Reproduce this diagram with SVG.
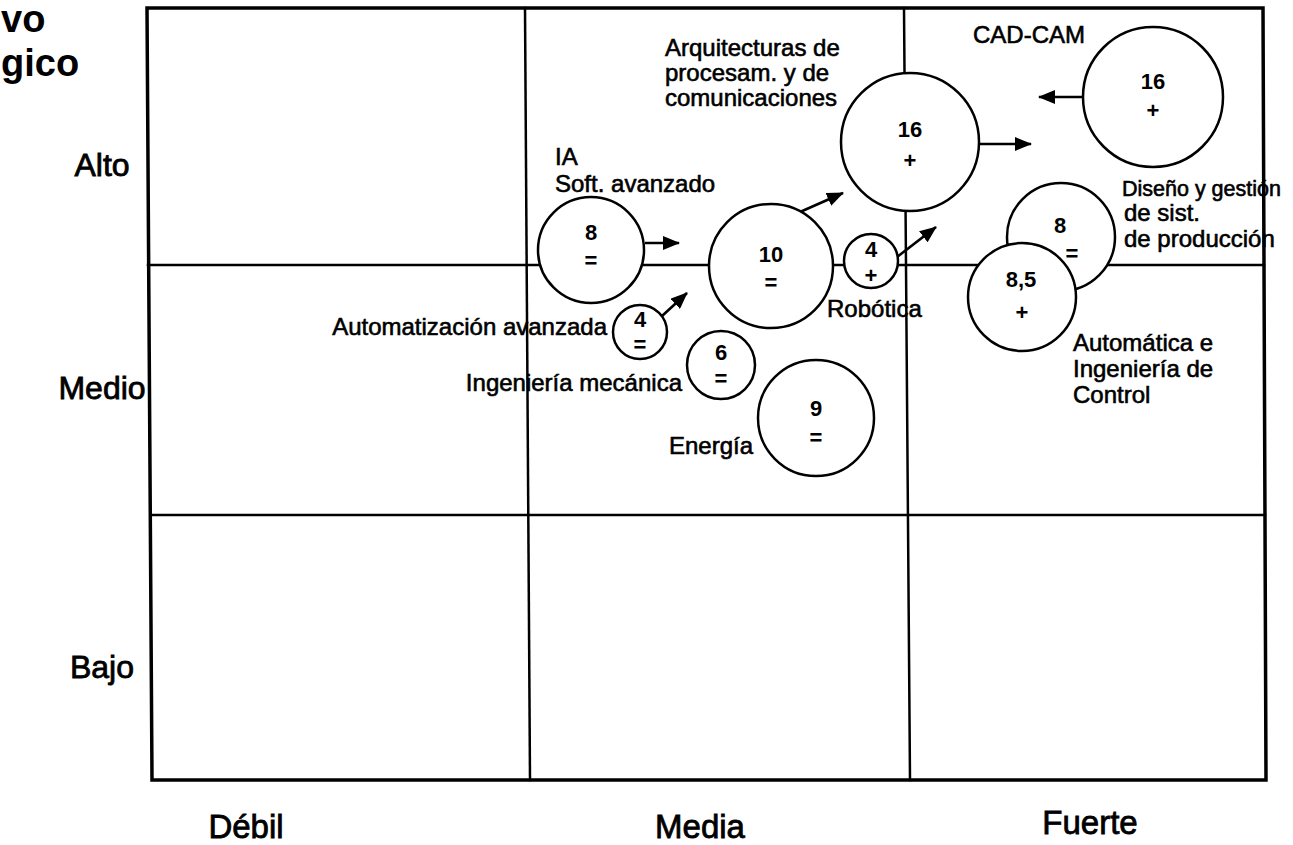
<svg xmlns="http://www.w3.org/2000/svg" width="1293" height="845" viewBox="0 0 1293 845">
  <defs>
    <style>
      .grid { fill: none; stroke: #000; stroke-width: 2.5; stroke-linecap: square; }
      .frame { fill: none; stroke: #000; stroke-width: 3.5; stroke-linejoin: miter; }
      .bubble { fill: #fff; stroke: #000; stroke-width: 2.5; }
      .lbl { font-family: "Liberation Sans", Arial, sans-serif; font-size: 24px; fill: #000; stroke: #000; stroke-width: 0.6; }
      .lbl-s { font-size: 21.5px; }
      .num { font-family: "Liberation Sans", Arial, sans-serif; font-size: 22px; font-weight: bold; fill: #000; text-anchor: middle; }
      .axis { font-family: "Liberation Sans", Arial, sans-serif; font-size: 32px; fill: #000; stroke: #000; stroke-width: 0.8; text-anchor: middle; }
      .axis-b { font-size: 33px; }
      .title { font-family: "Liberation Sans", Arial, sans-serif; font-size: 38px; font-weight: bold; fill: #000; }
      .arrow { fill: none; stroke: #000; stroke-width: 2.6; marker-end: url(#head); }
    </style>
    <marker id="head" markerUnits="userSpaceOnUse" markerWidth="18" markerHeight="14" refX="16" refY="7" orient="auto">
      <path d="M0,0 L17,7 L0,14 Z" fill="#000"/>
    </marker>
  </defs>

  <rect width="1293" height="845" fill="#fff"/>

  <!-- axis title -->
  <g id="axis-title">
    <text class="title" x="1" y="32">vo</text>
    <text class="title" x="1" y="76">gico</text>
  </g>

  <!-- row labels -->
  <g id="row-labels">
    <text class="axis" x="102" y="176">Alto</text>
    <text class="axis" x="102" y="399">Medio</text>
    <text class="axis" x="102" y="678">Bajo</text>
  </g>

  <!-- column labels -->
  <g id="col-labels">
    <text class="axis axis-b" x="246" y="838">Débil</text>
    <text class="axis axis-b" x="700" y="838">Media</text>
    <text class="axis axis-b" x="1090" y="834">Fuerte</text>
  </g>

  <!-- 3x3 matrix -->
  <g id="matrix">
    <path class="frame" d="M147,8 L1263,8 L1266,780 L152,780 Z"/>
    <path class="grid" d="M525,8 L530,780"/>
    <path class="grid" d="M904,8 L910,780"/>
    <path class="grid" d="M148,265 L1264,265"/>
    <path class="grid" d="M151,515 L1265,515"/>
  </g>

  <!-- trend arrows -->
  <g id="connectors">
    <path class="arrow" d="M645,243 L679,243"/>
    <path class="arrow" d="M800,212 L843,193"/>
    <path class="arrow" d="M897,257 L936,227"/>
    <path class="arrow" d="M979,144 L1031,144"/>
    <path class="arrow" d="M1083,97 L1039,97"/>
    <path class="arrow" d="M662,316 L687,293"/>
  </g>

  <g id="node-ia">
    <circle class="bubble" cx="591" cy="250" r="53"/>
    <text class="num" x="591" y="240">8</text>
    <text class="num" x="591" y="268">=</text>
    <text class="lbl" x="555" y="165">IA</text>
    <text class="lbl" x="555" y="192">Soft. avanzado</text>
  </g>

  <g id="node-10">
    <circle class="bubble" cx="771" cy="266" r="62"/>
    <text class="num" x="771" y="262">10</text>
    <text class="num" x="771" y="290">=</text>
  </g>

  <g id="node-robotica">
    <circle class="bubble" cx="871" cy="261" r="27"/>
    <text class="num" x="871" y="257">4</text>
    <text class="num" x="871" y="283">+</text>
    <text class="lbl" x="827" y="317">Robótica</text>
  </g>

  <g id="node-arquitecturas">
    <circle class="bubble" cx="910" cy="142" r="69"/>
    <text class="num" x="910" y="137">16</text>
    <text class="num" x="910" y="168">+</text>
    <text class="lbl" x="665" y="56">Arquitecturas de</text>
    <text class="lbl" x="665" y="81">procesam. y de</text>
    <text class="lbl" x="665" y="106">comunicaciones</text>
  </g>

  <g id="node-cadcam">
    <circle class="bubble" cx="1153" cy="97" r="70"/>
    <text class="num" x="1153" y="89">16</text>
    <text class="num" x="1153" y="118">+</text>
    <text class="lbl" x="973" y="43">CAD-CAM</text>
  </g>

  <g id="node-diseno">
    <circle class="bubble" cx="1061" cy="237" r="54"/>
    <text class="num" x="1060" y="233">8</text>
    <text class="num" x="1072" y="261">=</text>
    <text class="lbl lbl-s" x="1122" y="196">Diseño y gestión</text>
    <text class="lbl" x="1124" y="221">de sist.</text>
    <text class="lbl" x="1124" y="247">de producción</text>
  </g>

  <g id="node-automatica">
    <circle class="bubble" cx="1022" cy="297" r="54"/>
    <text class="num" x="1021" y="287">8,5</text>
    <text class="num" x="1022" y="320">+</text>
    <text class="lbl" x="1073" y="351">Automática e</text>
    <text class="lbl" x="1073" y="377">Ingeniería de</text>
    <text class="lbl" x="1073" y="403">Control</text>
  </g>

  <g id="node-automatizacion">
    <circle class="bubble" cx="640" cy="332" r="27"/>
    <text class="num" x="640" y="327">4</text>
    <text class="num" x="640" y="352">=</text>
    <text class="lbl" x="607" y="335" text-anchor="end">Automatización avanzada</text>
  </g>

  <g id="node-mecanica">
    <circle class="bubble" cx="721" cy="365" r="34"/>
    <text class="num" x="721" y="360">6</text>
    <text class="num" x="721" y="386">=</text>
    <text class="lbl" x="682" y="391" text-anchor="end">Ingeniería mecánica</text>
  </g>

  <g id="node-energia">
    <circle class="bubble" cx="816" cy="418" r="58"/>
    <text class="num" x="816" y="416">9</text>
    <text class="num" x="816" y="445">=</text>
    <text class="lbl" x="753" y="454" text-anchor="end">Energía</text>
  </g>
</svg>
